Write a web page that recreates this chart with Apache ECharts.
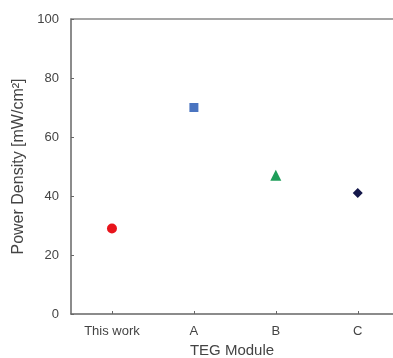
<!DOCTYPE html>
<html>
<head>
<meta charset="utf-8">
<script src="https://cdn.jsdelivr.net/npm/echarts@6/dist/echarts.min.js"></script>
<style>
html,body{margin:0;padding:0;background:#fff;}
#chart{width:393px;height:358px;}
</style>
</head>
<body>
<div id="chart"></div>
<script>
const categories = ["This work", "A", "B", "C"];
const powerDensity = [29, 70, 47, 41];
const yTicks = [0, 20, 40, 60, 80, 100];

const markers = [
  { symbol: "circle", size: 10, color: "#e8141c" },
  { symbol: "rect", size: 9, color: "#4a74c0" },
  { symbol: "triangle", size: 11, color: "#1f9e5a" },
  { symbol: "diamond", size: 10, color: "#14174a" },
];

const chart = echarts.init(document.getElementById("chart"));
const font = "Liberation Sans, Arial, sans-serif";
const catIdx = categories.map((c, i) => i);

chart.setOption({
  animation: false,
  grid: { left: 71, right: 0, top: 19, bottom: 44, outerBoundsMode: "none", containLabel: false },
  xAxis: [
    {
      type: "value",
      min: -0.5,
      max: 3.43,
      name: "TEG Module",
      nameLocation: "middle",
      nameGap: 28,
      nameTextStyle: { fontFamily: font, fontSize: 15, color: "#444" },
      axisLine: { onZero: false, lineStyle: { color: "#666", width: 1.5 } },
      axisTick: { show: true, inside: true, length: 3, customValues: catIdx, lineStyle: { color: "#666" } },
      axisLabel: {
        fontFamily: font, fontSize: 13, color: "#444", margin: 11,
        customValues: catIdx,
        formatter: (v) => categories[Math.round(v)],
      },
      splitLine: { show: false },
    },
    {
      type: "value",
      min: -0.5,
      max: 3.43,
      position: "top",
      axisLine: { show: true, onZero: false, lineStyle: { color: "#888", width: 1.5 } },
      axisTick: { show: false },
      axisLabel: { show: false },
      splitLine: { show: false },
    },
  ],
  yAxis: {
    type: "value",
    min: yTicks[0],
    max: yTicks[yTicks.length - 1],
    interval: 20,
    name: "Power Density [mW/cm\u00b2]",
    nameLocation: "middle",
    nameGap: 39,
    nameTextStyle: { fontFamily: font, fontSize: 16, color: "#444" },
    axisLine: { show: true, onZero: false, lineStyle: { color: "#666", width: 1.5 } },
    axisTick: { show: true, inside: true, length: 3, lineStyle: { color: "#666" } },
    axisLabel: { fontFamily: font, fontSize: 13, color: "#444", margin: 12 },
    splitLine: { show: false },
  },
  series: [
    {
      type: "scatter",
      data: powerDensity.map((v, i) => ({
        value: [i, v],
        symbol: markers[i].symbol,
        symbolSize: markers[i].size,
        itemStyle: { color: markers[i].color, opacity: 1 },
      })),
    },
  ],
});
</script>
</body>
</html>
